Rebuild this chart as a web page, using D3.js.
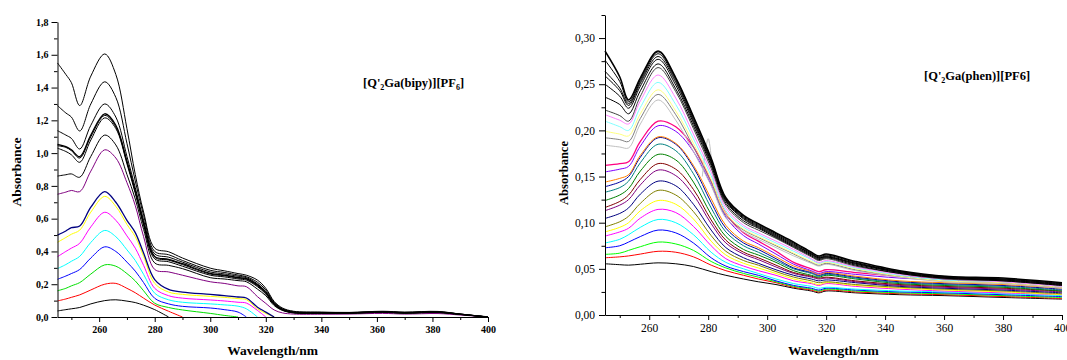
<!DOCTYPE html>
<html>
<head>
<meta charset="utf-8">
<script src="https://cdnjs.cloudflare.com/ajax/libs/d3/7.8.5/d3.min.js"></script>
<style>
  body { margin: 0; background: #fff; }
  text { font-family: "Palatino Linotype", "Book Antiqua", Palatino, "Liberation Serif", serif; }
</style>
</head>
<body>
<svg id="chart" width="1067" height="360"></svg>
<script>
// ---------- left panel: [Q'2Ga(bipy)][PF6] ----------
const wlBipy = [245, 248, 250, 253, 257, 262, 266, 270, 273, 276, 280, 285, 290, 300, 305, 310, 313, 317, 320, 323, 326, 330, 340, 350, 362, 370, 382, 390, 400];

const bipy1 = [1.55, 1.48, 1.43, 1.29, 1.47, 1.605, 1.48, 1.15, 0.87, 0.64, 0.42, 0.398, 0.36, 0.298, 0.282, 0.265, 0.255, 0.225, 0.175, 0.095, 0.055, 0.035, 0.030, 0.028, 0.035, 0.030, 0.034, 0.018, 0.0];
const bipy2 = [1.29, 1.245, 1.22, 1.135, 1.30, 1.435, 1.34, 1.06, 0.83, 0.62, 0.40, 0.38, 0.345, 0.285, 0.272, 0.256, 0.246, 0.212, 0.165, 0.09, 0.05, 0.033, 0.028, 0.027, 0.033, 0.028, 0.032, 0.018, 0.0];
const bipy3 = [1.137, 1.11, 1.09, 1.025, 1.17, 1.30, 1.22, 0.98, 0.79, 0.59, 0.385, 0.365, 0.335, 0.275, 0.263, 0.249, 0.24, 0.202, 0.155, 0.085, 0.048, 0.030, 0.026, 0.026, 0.032, 0.027, 0.031, 0.017, 0.0];
const bipy4 = [1.054, 1.04, 1.02, 0.978, 1.11, 1.24, 1.17, 0.95, 0.77, 0.575, 0.37, 0.352, 0.325, 0.266, 0.255, 0.241, 0.234, 0.196, 0.15, 0.08, 0.045, 0.028, 0.025, 0.025, 0.031, 0.026, 0.030, 0.017, 0.0];
const bipy5 = [1.045, 1.035, 1.015, 0.97, 1.10, 1.23, 1.16, 0.945, 0.765, 0.57, 0.365, 0.347, 0.32, 0.262, 0.252, 0.238, 0.231, 0.19, 0.145, 0.078, 0.044, 0.027, 0.024, 0.024, 0.030, 0.025, 0.029, 0.016, 0.0];
const bipy6 = [1.03, 1.01, 0.99, 0.944, 1.08, 1.215, 1.15, 0.935, 0.755, 0.56, 0.355, 0.337, 0.31, 0.255, 0.245, 0.232, 0.225, 0.185, 0.14, 0.075, 0.042, 0.026, 0.023, 0.023, 0.029, 0.024, 0.028, 0.016, 0.0];
const bipy7 = [0.86, 0.868, 0.873, 0.853, 0.98, 1.11, 1.05, 0.87, 0.72, 0.535, 0.33, 0.315, 0.295, 0.24, 0.232, 0.222, 0.215, 0.17, 0.13, 0.07, 0.04, 0.025, 0.022, 0.022, 0.028, 0.023, 0.027, 0.015, 0.0];
const bipyPurple = [0.749, 0.762, 0.772, 0.765, 0.89, 1.02, 0.97, 0.82, 0.68, 0.49, 0.29, 0.275, 0.255, 0.215, 0.205, 0.19, 0.185, 0.124, 0.083, 0.043, 0.025, 0.018, 0.017, 0.018, 0.022, 0.018, 0.021, 0.012, 0.0];
// the titration curves below end where they reach the baseline
const bipyNavy = [0.50, 0.525, 0.545, 0.555, 0.67, 0.765, 0.70, 0.59, 0.515, 0.39, 0.228, 0.168, 0.152, 0.138, 0.13, 0.122, 0.116, 0.06, 0.03, 0.0];
const bipyYellow = [0.456, 0.485, 0.505, 0.53, 0.64, 0.736, 0.675, 0.565, 0.49, 0.37, 0.205, 0.152, 0.138, 0.126, 0.12, 0.112, 0.106, 0.05, 0.022, 0.0];
const bipyMagenta = [0.368, 0.40, 0.42, 0.45, 0.55, 0.639, 0.59, 0.495, 0.42, 0.315, 0.175, 0.13, 0.115, 0.104, 0.098, 0.09, 0.085, 0.04, 0.0];
const bipyCyan = [0.295, 0.32, 0.34, 0.37, 0.455, 0.528, 0.49, 0.41, 0.345, 0.26, 0.145, 0.105, 0.09, 0.08, 0.074, 0.066, 0.05, 0.0];
const bipyBlue = [0.23, 0.25, 0.265, 0.29, 0.36, 0.428, 0.40, 0.335, 0.28, 0.21, 0.114, 0.08, 0.065, 0.055, 0.045, 0.03, 0.0];
const bipyGreen = [0.16, 0.175, 0.19, 0.21, 0.262, 0.318, 0.31, 0.265, 0.22, 0.16, 0.084, 0.058, 0.043, 0.022, 0.01, 0.0];
const bipyRed = [0.098, 0.11, 0.12, 0.135, 0.165, 0.20, 0.205, 0.175, 0.148, 0.115, 0.073, 0.035, 0.0];
const bipyBlack = [0.037, 0.045, 0.05, 0.058, 0.08, 0.10, 0.105, 0.097, 0.088, 0.072, 0.045, 0.0];

// ---------- right panel: [Q'2Ga(phen)][PF6] ----------
const wlPhen = [245, 250, 253, 257, 263, 269, 275, 281, 286, 292, 297, 303, 309, 315, 317.5, 320, 330, 345, 360, 380, 400];

const phenBlack1 = [0.286, 0.258, 0.233, 0.257, 0.286, 0.257, 0.215, 0.170, 0.127, 0.108, 0.099, 0.089, 0.079, 0.068, 0.064, 0.066, 0.058, 0.048, 0.042, 0.040, 0.035];
const phenBlack2 = [0.276, 0.253, 0.231, 0.255, 0.285, 0.256, 0.214, 0.169, 0.126, 0.107, 0.098, 0.088, 0.078, 0.067, 0.063, 0.065, 0.057, 0.047, 0.042, 0.039, 0.034];
const phenBlack3 = [0.264, 0.246, 0.229, 0.253, 0.283, 0.254, 0.212, 0.167, 0.125, 0.106, 0.097, 0.087, 0.077, 0.066, 0.062, 0.064, 0.056, 0.047, 0.041, 0.039, 0.034];
const phenBlack4 = [0.259, 0.243, 0.227, 0.251, 0.280, 0.252, 0.210, 0.166, 0.124, 0.105, 0.096, 0.086, 0.076, 0.066, 0.062, 0.063, 0.056, 0.046, 0.041, 0.038, 0.033];
const phenBlack5 = [0.250, 0.237, 0.224, 0.248, 0.277, 0.249, 0.208, 0.164, 0.123, 0.104, 0.095, 0.085, 0.075, 0.065, 0.061, 0.063, 0.055, 0.046, 0.040, 0.038, 0.033];
const phenBlack6 = [0.236, 0.228, 0.218, 0.243, 0.272, 0.245, 0.205, 0.162, 0.121, 0.102, 0.094, 0.084, 0.074, 0.064, 0.060, 0.062, 0.054, 0.045, 0.040, 0.037, 0.032];
const phenDkGray = [0.222, 0.216, 0.210, 0.237, 0.268, 0.242, 0.202, 0.159, 0.119, 0.100, 0.092, 0.083, 0.073, 0.063, 0.059, 0.061, 0.053, 0.045, 0.039, 0.037, 0.032];
const phenLtMagenta = [0.217, 0.211, 0.207, 0.232, 0.260, 0.235, 0.196, 0.155, 0.116, 0.097, 0.089, 0.080, 0.071, 0.061, 0.057, 0.059, 0.052, 0.044, 0.039, 0.036, 0.031];
const phenLtCyan = [0.210, 0.204, 0.200, 0.225, 0.252, 0.228, 0.191, 0.151, 0.113, 0.095, 0.087, 0.078, 0.069, 0.060, 0.056, 0.058, 0.051, 0.043, 0.038, 0.036, 0.031];
const phenLtYellow = [0.199, 0.196, 0.194, 0.218, 0.244, 0.221, 0.186, 0.147, 0.110, 0.093, 0.085, 0.076, 0.067, 0.058, 0.055, 0.057, 0.050, 0.042, 0.037, 0.035, 0.030];
const phenGray = [0.192, 0.190, 0.188, 0.213, 0.239, 0.217, 0.182, 0.144, 0.108, 0.092, 0.084, 0.075, 0.066, 0.057, 0.054, 0.056, 0.049, 0.042, 0.037, 0.035, 0.030];
const phenLtGray = [0.184, 0.182, 0.181, 0.207, 0.233, 0.211, 0.177, 0.140, 0.105, 0.090, 0.082, 0.073, 0.064, 0.056, 0.053, 0.055, 0.048, 0.041, 0.036, 0.034, 0.029];
const phenPink = [0.162, 0.164, 0.166, 0.188, 0.210, 0.204, 0.182, 0.145, 0.110, 0.089, 0.080, 0.069, 0.057, 0.050, 0.047, 0.049, 0.046, 0.042, 0.040, 0.037, 0.032];
const phenViolet = [0.155, 0.158, 0.161, 0.183, 0.205, 0.199, 0.177, 0.141, 0.106, 0.086, 0.077, 0.066, 0.055, 0.048, 0.045, 0.047, 0.044, 0.040, 0.038, 0.035, 0.030];
const phenOrange = [0.144, 0.148, 0.152, 0.173, 0.193, 0.186, 0.162, 0.126, 0.097, 0.080, 0.073, 0.063, 0.053, 0.047, 0.044, 0.046, 0.042, 0.037, 0.035, 0.033, 0.029];
const phenRoyal = [0.139, 0.144, 0.150, 0.171, 0.192, 0.185, 0.160, 0.122, 0.094, 0.078, 0.071, 0.061, 0.051, 0.046, 0.043, 0.045, 0.041, 0.036, 0.034, 0.032, 0.028];
const phenDkCyan = [0.133, 0.138, 0.145, 0.165, 0.185, 0.178, 0.153, 0.116, 0.090, 0.075, 0.068, 0.059, 0.050, 0.045, 0.042, 0.044, 0.040, 0.035, 0.033, 0.031, 0.027];
const phenDkGreen = [0.124, 0.130, 0.137, 0.156, 0.174, 0.168, 0.144, 0.109, 0.085, 0.071, 0.065, 0.057, 0.048, 0.043, 0.041, 0.043, 0.039, 0.034, 0.032, 0.030, 0.026];
const phenWine = [0.1165, 0.123, 0.130, 0.147, 0.164, 0.158, 0.136, 0.103, 0.081, 0.068, 0.062, 0.054, 0.046, 0.042, 0.040, 0.041, 0.037, 0.033, 0.031, 0.029, 0.026];
const phenPurple = [0.113, 0.119, 0.125, 0.141, 0.157, 0.151, 0.130, 0.099, 0.078, 0.066, 0.060, 0.052, 0.045, 0.041, 0.039, 0.040, 0.036, 0.032, 0.030, 0.028, 0.025];
const phenNavy = [0.1046, 0.110, 0.116, 0.131, 0.145, 0.140, 0.120, 0.092, 0.073, 0.062, 0.056, 0.049, 0.043, 0.039, 0.037, 0.038, 0.035, 0.031, 0.029, 0.027, 0.024];
const phenDkYellow = [0.0955, 0.101, 0.107, 0.121, 0.135, 0.130, 0.112, 0.086, 0.069, 0.059, 0.054, 0.047, 0.041, 0.037, 0.035, 0.036, 0.033, 0.030, 0.028, 0.026, 0.023];
const phenYellow = [0.090, 0.095, 0.100, 0.113, 0.124, 0.120, 0.104, 0.080, 0.065, 0.056, 0.051, 0.045, 0.039, 0.035, 0.033, 0.035, 0.032, 0.029, 0.027, 0.025, 0.022];
const phenMagenta = [0.0855, 0.090, 0.094, 0.105, 0.1144, 0.111, 0.096, 0.075, 0.061, 0.053, 0.048, 0.043, 0.037, 0.034, 0.032, 0.034, 0.031, 0.028, 0.026, 0.024, 0.022];
const phenCyan = [0.078, 0.082, 0.087, 0.095, 0.1035, 0.100, 0.087, 0.068, 0.057, 0.050, 0.045, 0.039, 0.034, 0.031, 0.029, 0.030, 0.028, 0.026, 0.025, 0.023, 0.021];
const phenBlue = [0.0728, 0.075, 0.079, 0.085, 0.092, 0.089, 0.078, 0.062, 0.053, 0.047, 0.043, 0.037, 0.032, 0.029, 0.027, 0.029, 0.027, 0.025, 0.024, 0.022, 0.020];
const phenGreen = [0.0657, 0.067, 0.070, 0.074, 0.079, 0.077, 0.070, 0.058, 0.051, 0.045, 0.041, 0.036, 0.031, 0.028, 0.026, 0.028, 0.026, 0.024, 0.023, 0.021, 0.019];
const phenRed = [0.062, 0.063, 0.064, 0.066, 0.069, 0.068, 0.063, 0.054, 0.048, 0.043, 0.039, 0.035, 0.030, 0.027, 0.025, 0.027, 0.025, 0.023, 0.022, 0.020, 0.018];
const phenBlack = [0.0555, 0.0545, 0.054, 0.055, 0.0565, 0.0555, 0.0525, 0.047, 0.043, 0.039, 0.036, 0.033, 0.029, 0.026, 0.024, 0.026, 0.024, 0.022, 0.021, 0.019, 0.0172];
// noise spike on one grey trace
const wlSpike = [278, 280, 282];
const phenSpike = [0.150, 0.191, 0.135];

// tick labels
const xTicks = [260, 280, 300, 320, 340, 360, 380, 400];
const bipyYTicks = [0, 0.2, 0.4, 0.6, 0.8, 1.0, 1.2, 1.4, 1.6, 1.8];
const phenYTicks = [0, 0.05, 0.10, 0.15, 0.20, 0.25, 0.30];

const serif = '"Palatino Linotype", "Book Antiqua", Palatino, "Liberation Serif", serif';
const comma = d3.formatLocale({decimal: ",", thousands: ".", grouping: [3], currency: ["", ""]});

let svg = d3.select("#chart");

function panel(p) {
  let x = d3.scaleLinear().domain([245, 400]).range(p.xr);
  let y = d3.scaleLinear().domain([0, p.ymax]).range(p.yr);
  let g = svg.append("g");

  let line = d3.line()
    .x(d => x(d[0]))
    .y(d => y(d[1]))
    .curve(d3.curveCatmullRom.alpha(0.5));

  p.curves.forEach(c => {
    let wl = c.wl || p.wl;
    g.append("path")
      .attr("d", line(c.v.map((v, i) => [wl[i], v])))
      .attr("fill", "none")
      .attr("stroke", c.color)
      .attr("stroke-width", c.w || 1);
  });

  // minor ticks first, then the major axis over them
  let xMinor = d3.range(250, 400, 10).filter(t => t % 20 != 0);
  g.append("g")
    .attr("transform", `translate(0,${p.yr[0]})`)
    .call(d3.axisBottom(x).tickValues(xMinor).tickSize(3).tickFormat(""))
    .call(a => a.select(".domain").remove());
  let xa = g.append("g")
    .attr("transform", `translate(0,${p.yr[0]})`)
    .call(d3.axisBottom(x).tickValues(xTicks).tickSize(5).tickSizeOuter(0).tickPadding(4).tickFormat(d3.format("d")));

  g.append("g")
    .attr("transform", `translate(${p.xr[0]},0)`)
    .call(d3.axisLeft(y).tickValues(p.yMinor).tickSize(3.5).tickFormat(""))
    .call(a => a.select(".domain").remove());
  let ya = g.append("g")
    .attr("transform", `translate(${p.xr[0]},0)`)
    .call(d3.axisLeft(y).tickValues(p.yTicks).tickSize(6).tickSizeOuter(0).tickPadding(p.ypad).tickFormat(comma.format(p.yFmt)));

  [xa, ya].forEach(a => a.attr("font-family", serif)
    .attr("font-size", p.tickSize)
    .attr("font-weight", p.tickWeight));

  // axis titles
  g.append("text")
    .attr("x", (p.xr[0] + p.xr[1]) / 2)
    .attr("y", 355)
    .attr("text-anchor", "middle")
    .attr("font-weight", "bold")
    .attr("font-size", 13.5)
    .text("Wavelength/nm");
  g.append("text")
    .attr("transform", `translate(${p.ylabX},${p.ylabY}) rotate(-90)`)
    .attr("text-anchor", "middle")
    .attr("font-weight", "bold")
    .attr("font-size", p.ylabSize)
    .text("Absorbance");

  // compound label
  let t = g.append("text")
    .attr("x", p.titleX)
    .attr("y", p.titleY)
    .attr("font-weight", "bold")
    .attr("font-size", 12.5);
  p.title.forEach(s => {
    t.append("tspan")
      .attr("dy", s.sub ? 3 : (s.up ? -3 : 0))
      .attr("font-size", s.sub ? 8 : 12.5)
      .text(s.t);
  });
}

panel({
  wl: wlBipy,
  xr: [57.5, 488], yr: [317, 22], ymax: 1.8,
  yTicks: bipyYTicks, yMinor: d3.range(0.1, 1.8, 0.2), yFmt: ".1f",
  ypad: 3, tickSize: 10, tickWeight: "bold",
  ylabX: 21, ylabY: 172, ylabSize: 13.5,
  titleX: 363, titleY: 87,
  title: [{t: "[Q'"}, {t: "2", sub: true}, {t: "Ga(bipy)][PF", up: true}, {t: "6", sub: true}, {t: "]", up: true}],
  curves: [
    {v: bipyBlack, color: "#000000"},
    {v: bipyRed, color: "#ff0000"},
    {v: bipyGreen, color: "#00e000"},
    {v: bipyBlue, color: "#0000ff"},
    {v: bipyCyan, color: "#00ffff"},
    {v: bipyMagenta, color: "#ff00ff"},
    {v: bipyYellow, color: "#ffff00"},
    {v: bipyNavy, color: "#000080", w: 1.3},
    {v: bipyPurple, color: "#800080"},
    {v: bipy7, color: "#000000"},
    {v: bipy6, color: "#000000"},
    {v: bipy5, color: "#000000"},
    {v: bipy4, color: "#000000", w: 1.3},
    {v: bipy3, color: "#000000"},
    {v: bipy2, color: "#000000"},
    {v: bipy1, color: "#000000"}
  ]
});

panel({
  wl: wlPhen,
  xr: [605, 1062], yr: [315, 15], ymax: 0.325,
  yTicks: phenYTicks, yMinor: d3.range(0.025, 0.33, 0.05), yFmt: ".2f",
  ypad: 4, tickSize: 11.5, tickWeight: "normal",
  ylabX: 568, ylabY: 173, ylabSize: 12.5,
  titleX: 924, titleY: 80,
  title: [{t: "[Q'"}, {t: "2", sub: true}, {t: "Ga(phen)][PF6]", up: true}],
  curves: [
    {v: phenBlack, color: "#000000"},
    {v: phenRed, color: "#ff0000"},
    {v: phenGreen, color: "#00ff00"},
    {v: phenBlue, color: "#0000ff"},
    {v: phenCyan, color: "#00ffff"},
    {v: phenMagenta, color: "#ff00ff"},
    {v: phenYellow, color: "#ffff00"},
    {v: phenDkYellow, color: "#808000"},
    {v: phenNavy, color: "#000080"},
    {v: phenPurple, color: "#800080"},
    {v: phenWine, color: "#800000"},
    {v: phenDkGreen, color: "#008000"},
    {v: phenDkCyan, color: "#008080"},
    {v: phenRoyal, color: "#0000a0"},
    {v: phenOrange, color: "#ff8000"},
    {v: phenViolet, color: "#8000ff"},
    {v: phenPink, color: "#ff0080", w: 1.3},
    {v: phenLtGray, color: "#c0c0c0"},
    {wl: wlSpike, v: phenSpike, color: "#c0c0c0"},
    {v: phenGray, color: "#808080"},
    {v: phenLtYellow, color: "#ffff80"},
    {v: phenLtCyan, color: "#80ffff"},
    {v: phenLtMagenta, color: "#ff80ff"},
    {v: phenDkGray, color: "#404040"},
    {v: phenBlack6, color: "#000000"},
    {v: phenBlack5, color: "#000000"},
    {v: phenBlack4, color: "#000000"},
    {v: phenBlack3, color: "#000000"},
    {v: phenBlack2, color: "#000000"},
    {v: phenBlack1, color: "#000000", w: 1.5}
  ]
});
</script>
</body>
</html>
